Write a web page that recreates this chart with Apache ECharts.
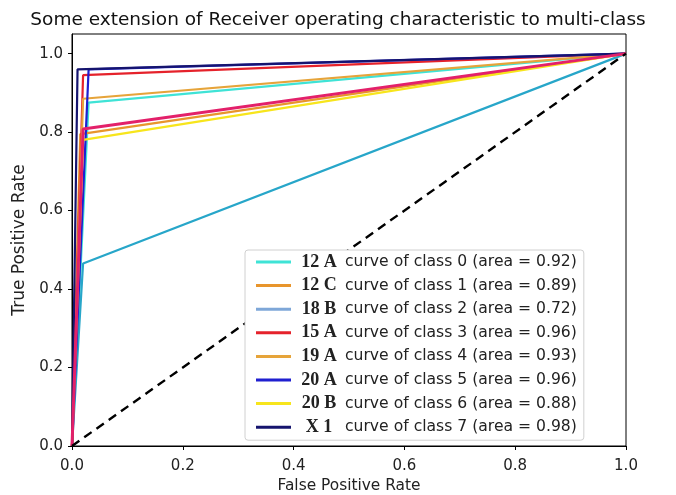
<!DOCTYPE html>
<html>
<head>
<meta charset="utf-8">
<script src="https://cdn.jsdelivr.net/npm/echarts@6/dist/echarts.min.js"></script>
<style>html,body{margin:0;padding:0;background:#fff}#c{width:676px;height:495px}</style>
</head>
<body>
<div id="c"></div>
<script>
// ---- data ----
var classCodes = ['12 A', '12 C', '18 B', '15 A', '19 A', '20 A', '20 B', 'X 1'];
var classAuc   = [0.92, 0.89, 0.72, 0.96, 0.93, 0.96, 0.88, 0.98];
var classFpr   = [0.03, 0.015, 0.02, 0.02, 0.02, 0.03, 0.02, 0.01];
var classTpr   = [0.875, 0.795, 0.465, 0.945, 0.885, 0.96, 0.78, 0.96];
var extraFpr   = [0.02];   // unlabeled pink curve
var extraTpr   = [0.808];
var xTicks = [0, 0.2, 0.4, 0.6, 0.8, 1.0];
var yTicks = [0, 0.2, 0.4, 0.6, 0.8, 1.0];

var lineColors   = ['#3fe3d6', '#e8952c', '#27a6c9', '#e5222b', '#e6a43a', '#1f1fd0', '#f7e51c', '#15146e'];
var legendColors = ['#3fe3d6', '#e8952c', '#7ea7d8', '#e5222b', '#e6a43a', '#1f1fd0', '#f7e51c', '#15146e'];

var chart = echarts.init(document.getElementById('c'), null, {renderer: 'canvas'});
var series = [];
var legendData = [];
classCodes.forEach(function (code, i) {
  var name = 'class ' + i;
  series.push({
    name: name, type: 'line', symbol: 'none', silent: true, animation: false,
    lineStyle: {color: lineColors[i], width: 2.2},
    itemStyle: {color: lineColors[i]},
    data: [[0, 0], [classFpr[i], classTpr[i]], [1, 1]]
  });
  legendData.push({name: name, icon: 'rect', itemStyle: {color: legendColors[i]}});
});
series.push({
  name: 'extra', type: 'line', symbol: 'none', animation: false,
  lineStyle: {color: '#e3206a', width: 3},
  data: [[0, 0], [extraFpr[0], extraTpr[0]], [1, 1]]
});
series.push({
  name: 'chance', type: 'line', symbol: 'none', animation: false,
  lineStyle: {color: '#000', width: 2.4, type: [9, 6]},
  data: [[0, 0], [1, 1]]
});

chart.setOption({
  backgroundColor: '#fff',
  animation: false,
  title: {
    text: 'Some extension of Receiver operating characteristic to multi-class',
    left: 'center', top: 6,
    textStyle: {fontFamily: 'DejaVu Sans', fontWeight: 'normal', fontSize: 18.5, color: '#111'}
  },
  grid: {left: 72, right: 50, top: 34, bottom: 49, show: true, borderColor: '#000', borderWidth: 1,
    backgroundColor: 'transparent', containLabel: false, outerBoundsMode: 'none'},
  legend: {
    orient: 'vertical', left: 245, top: 250,
    data: legendData,
    backgroundColor: '#fff', borderColor: '#d0d0d0', borderWidth: 1, borderRadius: 3,
    padding: [3, 7, 4, 11],
    itemWidth: 35, itemHeight: 3, itemGap: 5.6,
    formatter: function (name) {
      var i = parseInt(name.split(' ')[1], 10);
      return '{b|' + classCodes[i] + '}{t|curve of class ' + i + ' (area = ' + classAuc[i].toFixed(2) + ')}';
    },
    textStyle: {
      rich: {
        b: {fontFamily: 'Liberation Serif', fontWeight: 'bold', fontSize: 18, color: '#222', width: 46, align: 'right', lineHeight: 18},
        t: {fontFamily: 'DejaVu Sans', fontSize: 15.6, color: '#222', lineHeight: 18, padding: [0, 0, 0, 3]}
      }
    }
  },
  xAxis: {
    type: 'value', min: 0, max: 1, interval: 0.2,
    name: 'False Positive Rate', nameLocation: 'middle', nameGap: 32,
    nameTextStyle: {fontFamily: 'DejaVu Sans', fontSize: 15.4, color: '#222'},
    axisLine: {lineStyle: {color: '#000'}},
    axisTick: {show: true, length: 4, lineStyle: {color: '#000'}},
    axisLabel: {fontFamily: 'DejaVu Sans', fontSize: 15, color: '#222', margin: 13,
      formatter: function (v) { return xTicks.some(function (t) { return Math.abs(t - v) < 1e-6; }) ? v.toFixed(1) : ''; }},
    splitLine: {show: false}
  },
  yAxis: {
    type: 'value', min: 0, max: 1.05, interval: 0.2,
    name: 'True Positive Rate', nameLocation: 'middle', nameGap: 37, nameRotate: 90,
    nameTextStyle: {fontFamily: 'DejaVu Sans', fontSize: 17, color: '#222'},
    axisLine: {lineStyle: {color: '#000'}},
    axisTick: {show: true, length: 4, lineStyle: {color: '#000'}},
    axisLabel: {fontFamily: 'DejaVu Sans', fontSize: 15, color: '#222', margin: 9, showMaxLabel: false,
      formatter: function (v) { return yTicks.some(function (t) { return Math.abs(t - v) < 1e-6; }) ? v.toFixed(1) : ''; }},
    splitLine: {show: false}
  },
  series: series
});
</script>
</body>
</html>
